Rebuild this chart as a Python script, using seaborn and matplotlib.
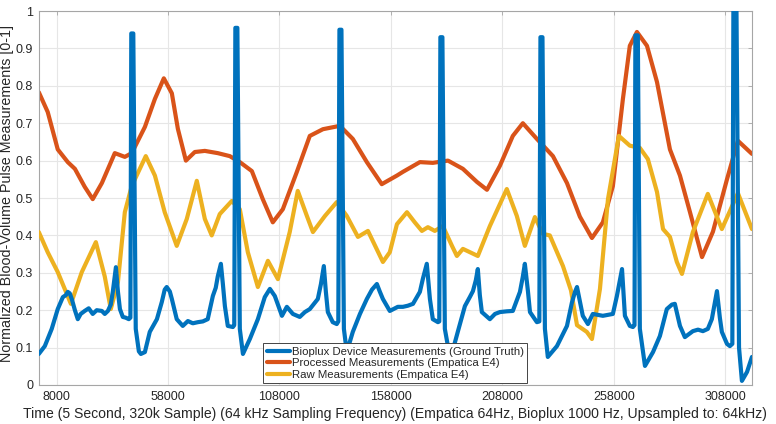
import numpy as np
import pandas as pd
import seaborn as sns
import matplotlib
matplotlib.use("Agg")
import matplotlib.pyplot as plt

# sample index (upsampled 64 kHz) and normalized BVP values
bioplux_x = [0, 2700, 5800, 8500, 10800, 12100, 13000, 13900, 14800, 16200, 17500, 18800,
             20600, 22400, 24200, 26000, 28300, 29600, 31000, 32300, 33200, 34600, 35500,
             36400, 37700, 39000, 40400, 41100, 41500, 42400, 43500, 44900, 45800, 47600,
             49800, 53000, 55200, 56500, 57400, 58800, 59700, 61900, 64600, 66900, 69100,
             71400, 73600, 75800, 78100, 79400, 80300, 81700, 82600, 83500, 84800, 87100,
             87700, 88200, 89100, 90200, 91600, 94700, 98300, 101400, 103700, 105900,
             109100, 111300, 114000, 117100, 119400, 121600, 125200, 126600, 127900,
             128800, 129700, 131900, 133700, 134400, 134900, 135800, 136900, 138200,
             140900, 144100, 147200, 149500, 151700, 153000, 154400, 157500, 161100,
             163400, 165600, 167900, 171000, 172300, 174100, 175500, 176800, 179100,
             179700, 180200, 181100, 182200, 184000, 185400, 188000, 191200, 193400,
             194800, 196100, 197000, 197900, 198800, 202400, 204700, 206900, 210000,
             212700, 215900, 217200, 218100, 219500, 220400, 223500, 224600, 225100,
             226000, 227100, 228400, 232500, 237000, 239200, 240600, 241500, 244100,
             246400, 248600, 253100, 257600, 259400, 261700, 263000, 265200, 266600,
             267300, 267700, 268800, 269700, 272000, 275600, 278700, 281800, 284100,
             285400, 287700, 289900, 293500, 295800, 298000, 300200, 302000, 304300,
             305600, 306500, 308800, 310100, 311200, 311700, 313000, 314200, 315500,
             317800, 320000]
bioplux_y = [0.083, 0.104, 0.15, 0.203, 0.235, 0.24, 0.249, 0.245, 0.23, 0.2, 0.176, 0.19,
             0.198, 0.205, 0.19, 0.2, 0.198, 0.19, 0.198, 0.215, 0.249, 0.315, 0.25,
             0.203, 0.182, 0.18, 0.176, 0.18, 0.94, 0.94, 0.15, 0.09, 0.083, 0.088,
             0.142, 0.176, 0.222, 0.255, 0.262, 0.25, 0.23, 0.176, 0.158, 0.171, 0.165,
             0.168, 0.17, 0.176, 0.238, 0.26, 0.29, 0.324, 0.27, 0.211, 0.158, 0.155,
             0.16, 0.955, 0.955, 0.15, 0.083, 0.123, 0.176, 0.235, 0.257, 0.238,
             0.185, 0.209, 0.19, 0.182, 0.195, 0.203, 0.23, 0.27, 0.318,
             0.25, 0.195, 0.168, 0.163, 0.17, 0.95, 0.95, 0.15, 0.088,
             0.142, 0.19, 0.23, 0.255, 0.27, 0.25, 0.23, 0.198, 0.209,
             0.209, 0.212, 0.217, 0.249, 0.283, 0.324, 0.23, 0.176, 0.168,
             0.17, 0.93, 0.93, 0.15, 0.09, 0.085, 0.142, 0.211, 0.235,
             0.251, 0.28, 0.31, 0.24, 0.195, 0.176, 0.19, 0.195, 0.197,
             0.198, 0.249, 0.29, 0.324, 0.25, 0.195, 0.168, 0.17, 0.93,
             0.93, 0.15, 0.075, 0.104, 0.158, 0.22, 0.249, 0.262, 0.185,
             0.163, 0.19, 0.185, 0.19, 0.238, 0.31, 0.185, 0.158, 0.155,
             0.16, 0.935, 0.935, 0.15, 0.051, 0.088, 0.131, 0.203, 0.215,
             0.217, 0.158, 0.128, 0.144, 0.148, 0.144, 0.15, 0.176, 0.251,
             0.18, 0.142, 0.11, 0.104, 0.11, 1.05, 1.05, 0.1, 0.011,
             0.035, 0.075]

processed_x = [0, 4000, 8500, 13000, 16200, 20600, 24200, 28300, 34100, 38600, 41700,
               47600, 52100, 56100, 59700, 62400, 66000, 70000, 74500, 80300, 85700,
               90200, 95600, 100500, 105000, 109500, 115800, 121600, 127500, 135100,
               140900, 147200, 153900, 160700, 163400, 171000, 176800, 183600, 190300,
               196600, 201100, 206900, 212700, 217200, 223500, 230700, 237000, 242800,
               248200, 253100, 257600, 262100, 265200, 268400, 272900, 277400, 283200,
               287700, 292200, 297600, 302500, 308800, 313700, 320000]
processed_y = [0.783, 0.73, 0.63, 0.596, 0.578, 0.53, 0.497, 0.54, 0.62, 0.61, 0.62,
               0.69, 0.765, 0.82, 0.78, 0.685, 0.6, 0.623, 0.626, 0.62, 0.612,
               0.596, 0.572, 0.497, 0.435, 0.47, 0.57, 0.666, 0.684, 0.693,
               0.658, 0.596, 0.537, 0.56, 0.57, 0.596, 0.594, 0.6, 0.578,
               0.543, 0.522, 0.586, 0.666, 0.7, 0.658, 0.612, 0.54, 0.45,
               0.393, 0.435, 0.532, 0.765, 0.907, 0.944, 0.907, 0.81, 0.63,
               0.56, 0.462, 0.342, 0.41, 0.55, 0.653, 0.618]

raw_x = [0, 4000, 8500, 14400, 19300, 25600, 29600, 32300, 35500, 38600, 41700, 48000,
         52100, 56500, 61900, 66400, 70900, 74500, 77600, 81200, 86600, 90200, 93800,
         98300, 102800, 107300, 112600, 116200, 120300, 123000, 128400, 133700, 138200,
         143200, 147700, 154400, 157500, 160700, 165200, 168700, 171900, 174600, 177700,
         181300, 185400, 187600, 190300, 197000, 202400, 210000, 214500, 218100, 222600,
         226200, 229300, 235200, 238800, 241500, 245900, 248200, 251800, 255400, 260300,
         265200, 269700, 273300, 277400, 280100, 283200, 286300, 288600, 293500, 300200,
         306500, 313700, 320000]
raw_y = [0.409, 0.355, 0.302, 0.217, 0.302, 0.382, 0.29, 0.203, 0.275, 0.462, 0.532, 0.612,
         0.56, 0.462, 0.372, 0.444, 0.546, 0.444, 0.4, 0.457, 0.492, 0.47, 0.355,
         0.262, 0.332, 0.283, 0.409, 0.519, 0.452, 0.409, 0.452, 0.489, 0.452,
         0.396, 0.412, 0.329, 0.355, 0.43, 0.462, 0.435, 0.412, 0.422, 0.412,
         0.425, 0.372, 0.345, 0.364, 0.345, 0.425, 0.524, 0.452, 0.372, 0.449,
         0.404, 0.4, 0.318, 0.253, 0.16, 0.142, 0.123, 0.257, 0.497, 0.666,
         0.64, 0.634, 0.604, 0.516, 0.417, 0.396, 0.329, 0.297, 0.409, 0.511,
         0.417, 0.513, 0.417]

x_ticks = [8000, 58000, 108000, 158000, 208000, 258000, 308000]
y_ticks = [0, 0.1, 0.2, 0.3, 0.4, 0.5, 0.6, 0.7, 0.8, 0.9, 1]
y_ticklabels = ["0", "0.1", "0.2", "0.3", "0.4", "0.5", "0.6", "0.7", "0.8", "0.9", "1"]

labels = ["Bioplux Device Measurements (Ground Truth)",
          "Processed Measurements (Empatica E4)",
          "Raw Measurements (Empatica E4)"]
colors = ["#0072BD", "#D95319", "#EDB120"]

sns.set_style("white")
plt.rcParams['font.family'] = ['Liberation Sans', 'DejaVu Sans']

fig = plt.figure(figsize=(7.76, 4.24), dpi=100)
ax = fig.add_axes([0.050, 0.092, 0.919, 0.882])

series = [(bioplux_x, bioplux_y), (processed_x, processed_y), (raw_x, raw_y)]
zorders = [4, 2, 3]
for (xs, ys), lab, c, z in zip(series, labels, colors, zorders):
    sns.lineplot(x=xs, y=ys, ax=ax, color=c, lw=3, label=lab, estimator=None,
                 sort=False, zorder=z, solid_joinstyle="round", solid_capstyle="round")

ax.set_xlim(0, 320000)
ax.set_ylim(0, 1)
ax.set_xticks(x_ticks)
ax.set_xticklabels([str(t) for t in x_ticks])
ax.set_yticks(y_ticks)
ax.set_yticklabels(y_ticklabels)
ax.grid(True, color="#e6e6e6", lw=0.8)
ax.set_axisbelow(True)
for s in ax.spines.values():
    s.set_color("#a6a6a6")
    s.set_linewidth(0.8)
ax.tick_params(direction="in", length=3, width=0.6, color="#a6a6a6",
               labelcolor="#262626", labelsize=9, top=True, right=True,
               labeltop=False, labelright=False, pad=4)

ax.set_xlabel("Time (5 Second, 320k Sample) (64 kHz Sampling Frequency) (Empatica 64Hz, "
              "Bioplux 1000 Hz, Upsampled to: 64kHz)", fontsize=10.1, color="#262626",
              labelpad=3)
ax.set_ylabel("Normalized Blood-Volume Pulse Measurements [0-1]", fontsize=10.3,
              color="#262626")
ax.yaxis.set_label_coords(-0.035, 0.513)

leg = ax.legend(loc="lower center", bbox_to_anchor=(0.5, 0.004), borderaxespad=0,
                fontsize=8.2, frameon=True, fancybox=False, framealpha=1,
                edgecolor="#444444", handlelength=2.0, handletextpad=0.2,
                labelspacing=0.15, borderpad=0.3)
leg.get_frame().set_linewidth(0.7)

fig.savefig("out.png", dpi=100)
